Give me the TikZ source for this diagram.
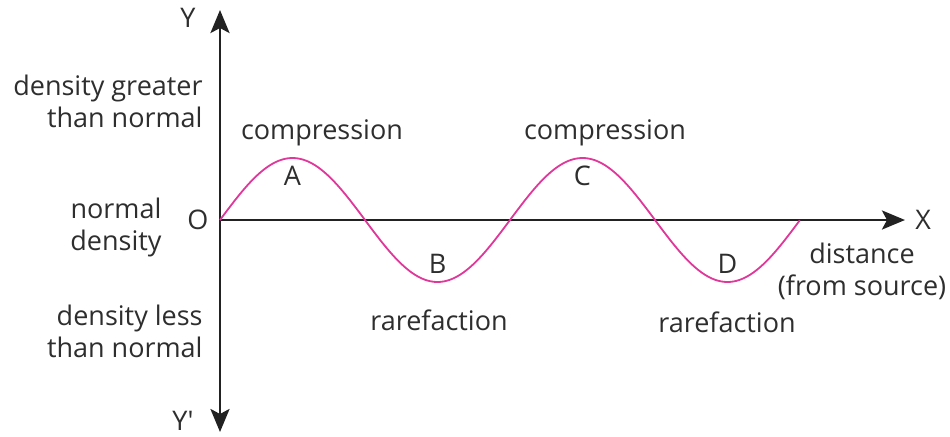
\documentclass[tikz,border=0pt]{standalone}
\usepackage{fontspec}
\setmainfont{Open Sans}[Ligatures=TeXOff]
\usepackage{xcolor}
\usetikzlibrary{arrows.meta,positioning}
\definecolor{wavepink}{HTML}{E0379A}
\definecolor{axisgray}{HTML}{222222}
\definecolor{labelgray}{HTML}{2E2E2E}

\begin{document}
\begin{tikzpicture}[
  x=0.5pt, y=-0.5pt,
  font=\fontsize{13.5}{16}\selectfont,
  lbl/.style={text=labelgray, inner sep=1pt},
  sidelbl/.style={lbl, align=right, anchor=east},
  axis/.style={draw=axisgray, line width=1.4pt},
  axisarrow/.style={axis, -{Stealth[length=11.5pt,width=9.5pt,inset=2.5pt]}},
  wave/.style={draw=wavepink, line width=0.9pt}
]
\useasboundingbox (0,0) rectangle (950,436);

% axes
\coordinate (O) at (220,220);
\coordinate (ytop) at (220,10);
\coordinate (ybot) at (220,432);
\coordinate (xend) at (905,220);
\draw[axisarrow] (O) -- (ytop);
\draw[axisarrow] (O) -- (ybot);
\draw[axisarrow] (O) -- (xend);

% wave, two wavelengths of 290px
\draw[wave] plot[domain=0:2, samples=120, smooth]
  ({220+290*\x}, {220-62*sin(360*\x)});

% crests and troughs
\coordinate (crestA) at (292.5,158);
\coordinate (troughB) at (437.5,282);
\coordinate (crestC) at (582.5,158);
\coordinate (troughD) at (727.5,282);

\node[lbl, below=3pt of crestA] (A) {A};
\node[lbl, above=3pt of troughB] (B) {B};
\node[lbl, below=3pt of crestC] (C) {C};
\node[lbl, above=3pt of troughD] (D) {D};
\node[lbl] (compA) at (322,133) {compression};
\node[lbl] (compC) at (605,133) {compression};
\node[lbl] (rareB) at (439,320) {rarefaction};
\node[lbl] (rareD) at (727,322) {rarefaction};

% axis labels
\node[lbl] (ylab) at (188,18) {Y};
\node[lbl] (yplab) at (183,421) {Y'};
\node[lbl] (olab) at (198,220) {O};
\node[lbl, right=4pt of xend] (xlab) {X};
\node[lbl, align=center] (dist) at (862,271) {distance\\(from source)};

% density labels
\node[sidelbl] (dgreat) at (205,101) {density greater\\than normal};
\node[lbl, align=center] (dnorm) at (116,227) {normal\\density};
\node[sidelbl] (dless) at (205,331) {density less\\than normal};
\end{tikzpicture}
\end{document}
